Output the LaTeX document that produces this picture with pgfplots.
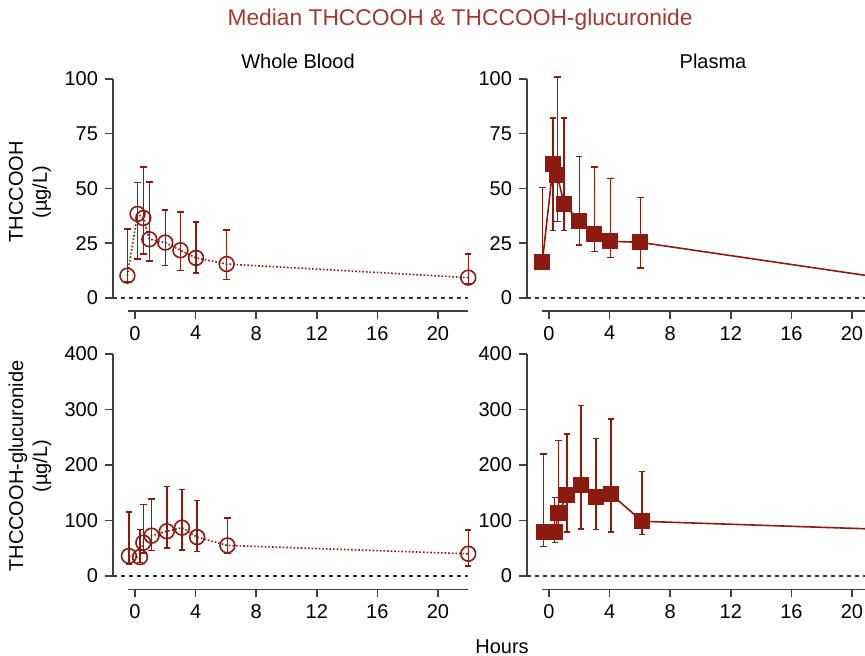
\documentclass[border=0pt]{standalone}
\usepackage{pgfplots}
\pgfplotsset{compat=1.18}
\usepackage{pgfplotstable}
\usepackage{fontspec}
\setmainfont{Liberation Sans}

\definecolor{dred}{RGB}{139,26,16}
\definecolor{tred}{RGB}{163,58,46}
\definecolor{axgray}{RGB}{64,64,64}

% x  y  plus  minus
\pgfplotstableread{
x y ep em
-0.5 10.2 21.2 3
0.17 38.4 14.3 20.7
0.55 36.5 23.2 16.4
0.95 26.8 26.2 9.9
2.0 25.3 14.9 10.5
3.0 21.8 17.5 9.2
4.03 18.3 16.5 7.0
6.05 15.5 15.6 7.0
22 9.3 10.8 3
}\wbthc
\pgfplotstableread{
x y ep em
-0.44 16.3 34.2 3
0.28 61 21.2 30.1
0.55 56 44.8 21.1
1.0 42.9 39.3 12.2
2.0 35 29.7 10.7
3.0 29.1 30.7 7.8
4.05 25.9 28.6 7.5
6.03 25.4 20.4 11.6
22 9.2 5 3
}\plthc
\pgfplotstableread{
x y ep em
-0.4 36 79 14
0.33 34 50 10
0.55 60 69 19
1.1 72.6 66.4 27
2.1 80.5 80.5 30
3.1 87 69 40
4.1 70 66 25.5
6.1 55 49 14
22 40 43 22
}\wbgluc
\pgfplotstableread{
x y ep em
-0.35 78.7 141 26
0.38 78.7 63 18
0.62 113 131 20
1.19 145 111 66
2.13 163 144 78
3.1 142 106 58
4.1 147 136 68
6.15 98.5 89.5 23.5
22 84 30 20
}\plgluc

\tikzset{
  axisline/.style={axgray, line width=0.75pt},
  zeroline/.style={black!80, line width=0.6pt, dash pattern=on 2pt off 2pt},
}

\pgfplotsset{
  panel/.style={
    scale only axis, width=179.9pt,
    xmin=-1.45, xmax=22.3,
    axis x line*=bottom, axis y line*=left,
    axis line style={draw=none},
    tick align=outside, major tick length=4pt,
    tick style={axgray, line width=0.75pt},
    xtick={0,4,...,20},
    clip=false,
    font=\fontsize{10}{12}\selectfont,
    /pgf/number format/assume math mode=true,
    anchor=south west,
  },
  toppanel/.style={panel, height=117.1pt, ymin=-5.94, ymax=101, ytick={0,25,...,100}},
  botpanel/.style={panel, height=118.8pt, ymin=-24, ymax=404, ytick={0,100,...,400}},
  errs/.style={
    error bars/.cd, y dir=both, y explicit,
    error bar style={dred, line width=0.75pt, solid},
    error mark options={rotate=90, mark size=1.6pt, line width=0.75pt, dred, solid},
  },
  wbplot/.style={dred, line width=0.8pt, densely dotted, mark=o,
    mark size=3.7pt, mark options={solid, line width=0.8pt}},
  plplot/.style={dred, line width=0.8pt, mark=square*,
    mark size=3.6pt, mark options={solid, fill=dred}},
}

\begin{document}
\begin{tikzpicture}
\path[use as bounding box] (0,0) rectangle (432.5pt,328pt);

% Whole blood THCCOOH
\begin{axis}[toppanel, at={(56.5pt,172.5pt)}]
\draw[zeroline] (axis cs:-1.45,0) -- (axis cs:22,0);
\draw[axisline] (axis cs:-1.45,0) -- (axis cs:-1.45,100);
\draw[axisline] (axis cs:-0.45,-5.94) -- (axis cs:22,-5.94);
\addplot+[wbplot, errs] table[x=x, y=y, y error plus=ep, y error minus=em] {\wbthc};
\end{axis}

% Plasma THCCOOH
\begin{axis}[toppanel, at={(263.5pt,172.5pt)}]
\draw[zeroline] (axis cs:-1.45,0) -- (axis cs:22.3,0);
\draw[axisline] (axis cs:-1.45,0) -- (axis cs:-1.45,100);
\draw[axisline] (axis cs:-0.45,-5.94) -- (axis cs:22.3,-5.94);
\addplot+[plplot, errs] table[x=x, y=y, y error plus=ep, y error minus=em] {\plthc};
\end{axis}

% Whole blood glucuronide
\begin{axis}[botpanel, at={(56.5pt,33.35pt)}]
\draw[zeroline] (axis cs:-1.45,0) -- (axis cs:22,0);
\draw[axisline] (axis cs:-1.45,0) -- (axis cs:-1.45,400);
\draw[axisline] (axis cs:-0.45,-24) -- (axis cs:22,-24);
\addplot+[wbplot, errs] table[x=x, y=y, y error plus=ep, y error minus=em] {\wbgluc};
\end{axis}

% Plasma glucuronide
\begin{axis}[botpanel, at={(263.5pt,33.35pt)}]
\draw[zeroline] (axis cs:-1.45,0) -- (axis cs:22.3,0);
\draw[axisline] (axis cs:-1.45,0) -- (axis cs:-1.45,400);
\draw[axisline] (axis cs:-0.45,-24) -- (axis cs:22.3,-24);
\addplot+[plplot, errs] table[x=x, y=y, y error plus=ep, y error minus=em] {\plgluc};
\end{axis}

\node[tred, font=\fontsize{11.4}{13}\selectfont] at (230pt,318pt) {Median THCCOOH \& THCCOOH-glucuronide};
\node[font=\fontsize{10}{12}\selectfont] at (149pt,297.5pt) {Whole Blood};
\node[font=\fontsize{10}{12}\selectfont] at (356.5pt,297.5pt) {Plasma};
\node[font=\fontsize{10}{12}\selectfont] at (251pt,4.5pt) {Hours};
\node[rotate=90, align=center, font=\fontsize{10}{12}\selectfont] at (15pt,232pt) {THCCOOH\\(µg/L)};
\node[rotate=90, align=center, font=\fontsize{10}{12}\selectfont] at (15pt,95pt) {THCCOOH-glucuronide\\(µg/L)};
\end{tikzpicture}
\end{document}
